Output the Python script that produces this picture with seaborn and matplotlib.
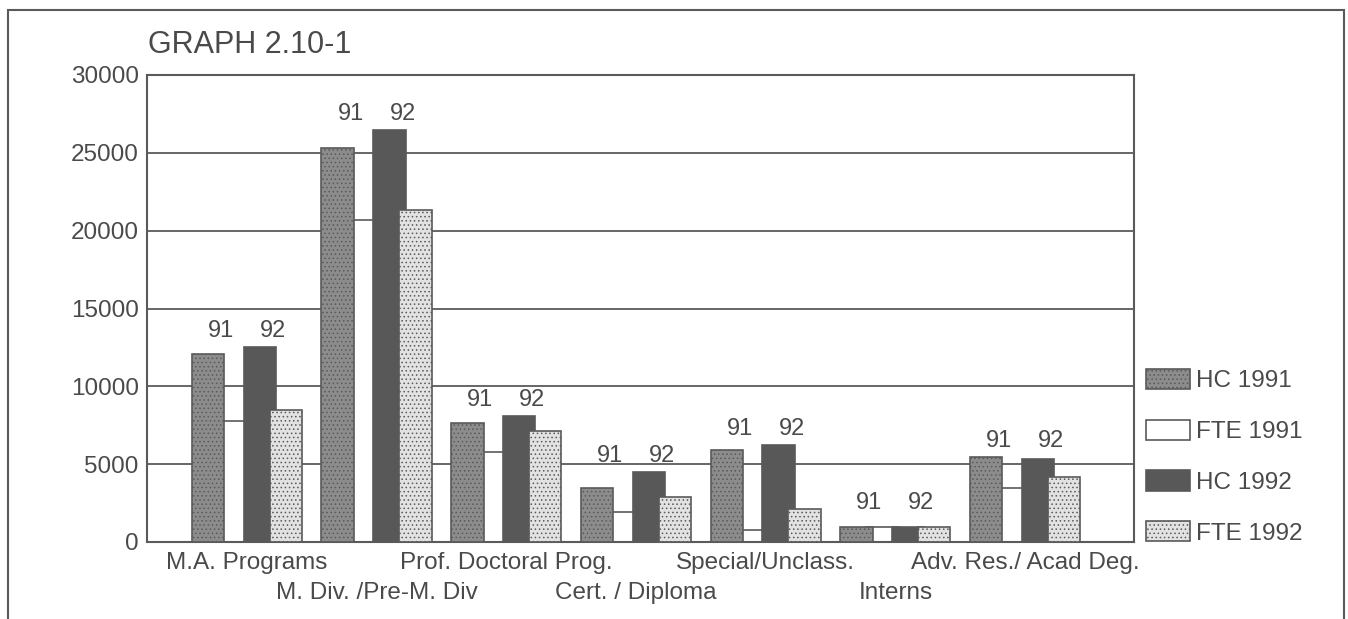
import matplotlib
matplotlib.use("Agg")
import matplotlib.pyplot as plt
import matplotlib.patches as mpatches
import seaborn as sns
import pandas as pd
import numpy as np

# categories (staggered on two rows in the original)
categories = ["M.A. Programs", "M. Div. /Pre-M. Div", "Prof. Doctoral Prog.",
              "Cert. / Diploma", "Special/Unclass.", "Interns",
              "Adv. Res./ Acad Deg."]
series = ["HC 1991", "FTE 1991", "HC 1992", "FTE 1992"]

hc_1991 = [12050, 25300, 7650, 3500, 5900, 950, 5450]
fte_1991 = [7800, 20700, 5800, 1950, 750, 950, 3500]
hc_1992 = [12550, 26450, 8100, 4500, 6250, 950, 5350]
fte_1992 = [8500, 21350, 7150, 2900, 2100, 950, 4150]

year_labels = ["91", "92"]
yticks = [0, 5000, 10000, 15000, 20000, 25000, 30000]

colors = {"HC 1991": "#8c8c8c", "FTE 1991": "#ffffff",
          "HC 1992": "#585858", "FTE 1992": "#e2e2e2"}
hatches = {"HC 1991": "....", "FTE 1991": "", "HC 1992": "", "FTE 1992": "...."}

df = pd.DataFrame({
    "category": categories * 4,
    "series": np.repeat(series, len(categories)),
    "value": hc_1991 + fte_1991 + hc_1992 + fte_1992,
})

sns.set_theme(style="white")
plt.rcParams["font.family"] = ["Liberation Sans", "DejaVu Sans"]
plt.rcParams["hatch.linewidth"] = 0.6
text_col = "#4a4a4a"
line_col = "#5a5a5a"

fig = plt.figure(figsize=(13.48, 6.19), dpi=100)
ax = fig.add_axes([147 / 1348, 1 - 542 / 619, (1134 - 147) / 1348, (542 - 75) / 619])

sns.barplot(data=df, x="category", y="value", hue="series", order=categories,
            hue_order=series, palette=colors, width=0.8, dodge=True,
            edgecolor=line_col, linewidth=1.2, legend=False, ax=ax)

# widen the bars so neighbours overlap a little, like the original
bar_w = 0.25
zorders = {"HC 1991": 3, "FTE 1991": 2, "HC 1992": 3, "FTE 1992": 4}
for name, cont in zip(series, ax.containers):
    for p in cont.patches:
        cx = p.get_x() + p.get_width() / 2
        p.set_x(cx - bar_w / 2)
        p.set_width(bar_w)
        p.set_zorder(zorders[name])
        p.set_hatch(hatches[name])

# year labels above each pair
for i in range(len(categories)):
    top = max(hc_1991[i], fte_1991[i], hc_1992[i], fte_1992[i])
    ypos = max(top + 650, 2150)
    for off, lab in zip([-0.2, 0.2], year_labels):
        ax.text(i + off, ypos, lab, ha="center", va="baseline",
                fontsize=17, color=text_col)

ax.set_ylim(0, 30000)
ax.set_xlim(-0.77, 6.84)
ax.set_yticks(yticks)
ax.set_yticklabels([str(v) for v in yticks])

# staggered category labels: even ones on major ticks, odd ones on minor ticks
ax.set_xticks(range(0, len(categories), 2))
ax.set_xticklabels(categories[0::2])
ax.set_xticks(range(1, len(categories), 2), minor=True)
ax.set_xticklabels(categories[1::2], minor=True)
ax.tick_params(axis="both", which="both", length=0, labelsize=17.5, labelcolor=text_col)
ax.tick_params(axis="y", pad=6)
ax.tick_params(axis="x", which="major", pad=7)
ax.tick_params(axis="x", which="minor", pad=29)
ax.set_xlabel("")
ax.set_ylabel("")
ax.yaxis.grid(True, color=line_col, linewidth=1.3)
ax.xaxis.grid(False, which="both")
ax.set_axisbelow(True)
for s in ax.spines.values():
    s.set_color(line_col)
    s.set_linewidth(1.5)

handles = [mpatches.Patch(facecolor=colors[s], edgecolor=line_col, hatch=hatches[s],
                          linewidth=1.2, label=s) for s in series]
fig.legend(handles=handles, loc="upper left", bbox_to_anchor=(1146 / 1348, 1 - 369 / 619),
           frameon=False, fontsize=17.5, labelcolor=text_col, handlelength=1.8,
           handleheight=0.9, handletextpad=0.25, labelspacing=1.12,
           borderpad=0, borderaxespad=0)

fig.text(148 / 1348, 1 - 53 / 619, "GRAPH 2.10-1", fontsize=22, color=text_col,
         va="baseline", ha="left")

# outer frame, open past the bottom edge
fig.add_artist(mpatches.Rectangle((8 / 1348, -0.05), (1344 - 8) / 1348, 1.05 - 10 / 619,
                                  transform=fig.transFigure, fill=False,
                                  edgecolor=line_col, linewidth=1.5))

fig.savefig("out.png", dpi=100)
